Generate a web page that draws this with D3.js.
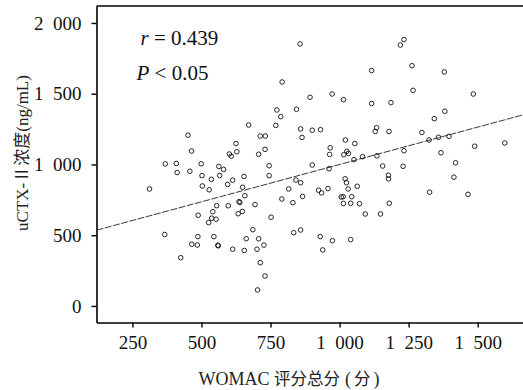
<!DOCTYPE html>
<html>
<head>
<meta charset="utf-8">
<script src="https://cdn.jsdelivr.net/npm/d3@7"></script>
<style>
  html, body { margin: 0; padding: 0; background: #fff; }
  svg { display: block; }
</style>
</head>
<body>
<svg id="chart" width="523" height="390"></svg>
<script>
// ---- data ----
const womac = [
  857,1220,1233,1116,1262,1379,792,893,973,1014,1266,1484,1116,1186,773,787,844,1343,1381,
  671,769,859,901,931,864,1134,1129,1179,1298,451,713,731,625,1021,1055,1324,1358,1396,1489,1598,
  464,601,608,628,707,730,966,964,1015,1026,1032,1233,1367,1052,1083,1135,
  369,409,499,563,580,745,901,962,1156,1230,1420,
  412,458,502,536,566,595,613,654,745,
  312,503,528,649,842,859,816,924,935,958,1020,1025,1064,1031,1177,1177,1414,
  636,639,657,555,597,694,791,831,866,1006,1013,1044,1014,1040,1072,1180,1326,1465,
  541,488,633,648,537,553,526,752,1093,1148,
  367,487,545,686,834,859,930,974,1040,662,707,465,485,559,561,726,613,655,701,939,
  425,713,730,703
];
const uctx = [
  1852,1844,1883,1664,1698,1654,1583,1475,1498,1458,1524,1498,1431,1437,1385,1338,1390,1324,1376,
  1279,1276,1251,1242,1246,1191,1260,1233,1233,1226,1207,1201,1201,1148,1173,1148,1173,1192,1199,1129,1152,
  1095,1074,1058,1090,1072,1107,1118,1071,1069,1093,1078,1097,1083,1034,1055,1061,
  1004,1007,1005,986,965,991,996,970,989,987,1012,
  943,952,921,895,922,859,889,915,921,
  827,848,821,839,890,871,827,818,799,830,899,871,846,827,924,898,910,
  737,731,779,709,708,716,756,730,774,770,772,772,724,726,723,726,804,789,
  666,641,652,668,620,613,589,627,650,650,
  505,490,490,539,518,537,490,461,469,475,475,436,431,429,425,430,401,392,401,396,
  341,306,212,113
];
const xTicks = [250, 500, 750, 1000, 1250, 1500];
const yTicks = [0, 500, 1000, 1500, 2000];
const xExtent = [120, 1664];
const yExtent = [-117, 2120];
const fitIntercept = 472;
const fitSlope = 0.528;
const statR = "0.439";
const statP = "0.05";
const xTitle = ["WOMAC ", "评分总分", "(", "分", ")"];
const yTitle = "uCTX-Ⅱ浓度(ng/mL)";

// ---- drawing ----
const svg = d3.select("#chart");
svg.append("rect").attr("width", 523).attr("height", 390).attr("fill", "#fff");

const x = d3.scaleLinear().domain(xExtent).range([96.5, 523]);
const y = d3.scaleLinear().domain(yExtent).range([322.5, 6]);

const fmt = d => {
  const s = String(d);
  return s.length > 3 ? s.slice(0, s.length - 3) + "\u2002" + s.slice(-3) : s;
};
const serif = "'Liberation Serif','Times New Roman',serif";

// top border
svg.append("line")
  .attr("x1", x(xExtent[0])).attr("x2", x(xExtent[1]))
  .attr("y1", y(yExtent[1])).attr("y2", y(yExtent[1]))
  .attr("stroke", "#000").attr("stroke-width", 1.6);

// axes
const gx = svg.append("g").attr("transform", `translate(0,${y(yExtent[0])})`)
  .call(d3.axisBottom(x).tickValues(xTicks).tickFormat(fmt).tickSize(5).tickPadding(8).tickSizeOuter(0));
const gy = svg.append("g").attr("transform", `translate(${x(xExtent[0])},0)`)
  .call(d3.axisLeft(y).tickValues(yTicks).tickFormat(fmt).tickSize(5).tickPadding(10).tickSizeOuter(0));

[gx, gy].forEach(g => {
  g.select(".domain").attr("stroke", "#000").attr("stroke-width", 1.6);
  g.selectAll(".tick line").attr("stroke", "#000").attr("stroke-width", 1.4);
  g.selectAll(".tick text").attr("fill", "#111").style("font-family", serif).style("font-size", "19px");
});

// regression line
svg.append("line")
  .attr("x1", x(xExtent[0])).attr("y1", y(fitIntercept + fitSlope * xExtent[0]))
  .attr("x2", x(xExtent[1])).attr("y2", y(fitIntercept + fitSlope * xExtent[1]))
  .attr("stroke", "#222").attr("stroke-width", 0.9).attr("stroke-dasharray", "7,1.5");

// points
svg.append("g").selectAll("circle")
  .data(womac.map((w, i) => [w, uctx[i]]))
  .join("circle")
  .attr("cx", d => x(d[0])).attr("cy", d => y(d[1]))
  .attr("r", 2.3)
  .attr("fill", "none").attr("stroke", "#111").attr("stroke-width", 0.9);

// stats text
const t1 = svg.append("text").attr("x", 140.5).attr("y", 44.5)
  .style("font-family", serif).style("font-size", "21px").attr("fill", "#111");
t1.append("tspan").style("font-style", "italic").text("r");
t1.append("tspan").text(" = " + statR);
const t2 = svg.append("text").attr("x", 136.5).attr("y", 80)
  .style("font-family", serif).style("font-size", "21px").attr("fill", "#111");
t2.append("tspan").style("font-style", "italic").text("P");
t2.append("tspan").text(" < " + statP);

// axis titles
const xt = svg.append("text").attr("x", 289).attr("y", 384.5).attr("text-anchor", "middle")
  .style("font-family", serif + ",'Noto Sans CJK SC'").style("font-size", "18px").attr("fill", "#222");
xt.append("tspan").text(xTitle[0]);
xt.append("tspan").style("font-family", "'Noto Sans CJK SC'").style("font-size", "16.5px").text(xTitle[1]);
xt.append("tspan").attr("dx", 5).text(xTitle[2]);
xt.append("tspan").attr("dx", 3).style("font-family", "'Noto Sans CJK SC'").style("font-size", "16.5px").text(xTitle[3]);
xt.append("tspan").attr("dx", 3).text(xTitle[4]);

svg.append("text")
  .attr("transform", "translate(28,153) rotate(-90)")
  .attr("text-anchor", "middle")
  .style("font-family", serif + ",'Noto Sans CJK SC'").style("font-size", "17px")
  .attr("fill", "#222")
  .text(yTitle);
</script>
</body>
</html>
